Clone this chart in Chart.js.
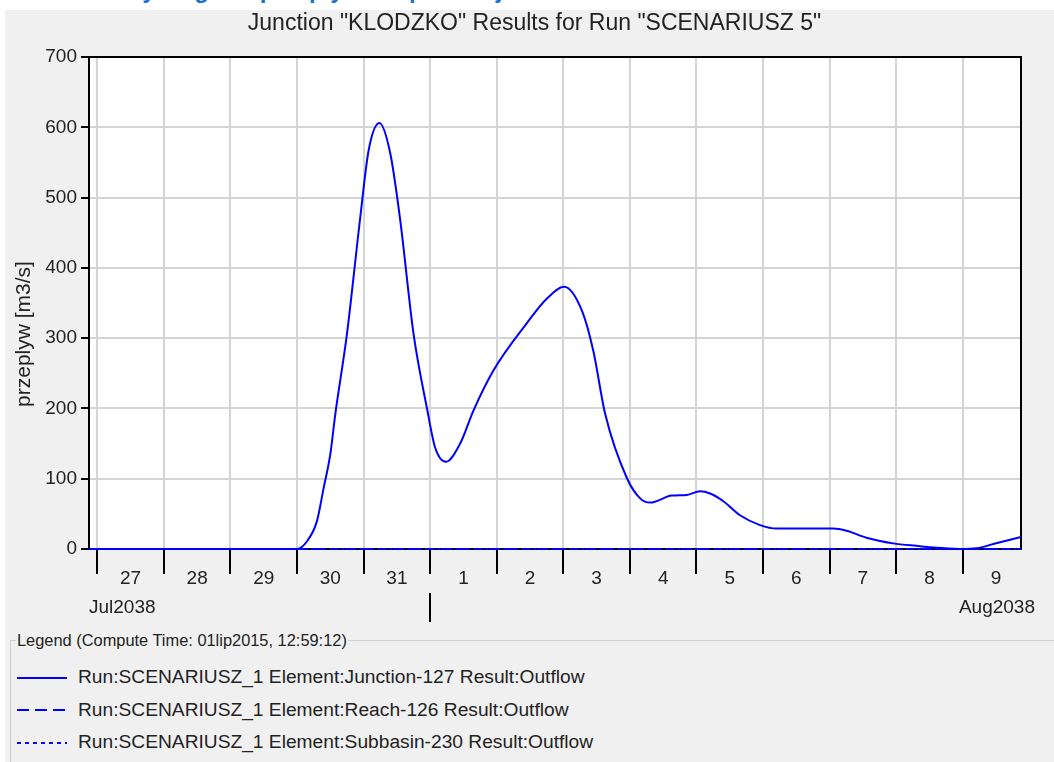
<!DOCTYPE html>
<html>
<head>
<meta charset="utf-8">
<script src="https://cdn.jsdelivr.net/npm/chart.js@4.4.0/dist/chart.umd.min.js"></script>
<style>
    body { margin: 0; background: #ffffff; width: 1054px; height: 762px; overflow: hidden; position: relative; font-family: "Liberation Sans", Arial, sans-serif; }
    #panel { position: absolute; left: 5px; top: 10px; right: 0; bottom: 0; background: #f0f0f0; }
    #heading { position: absolute; left: 125px; top: -24px; line-height: 24px; font: bold 24px "Liberation Sans", Arial, sans-serif; color: #1a73c8; white-space: nowrap; }
    #chart { position: absolute; left: 0; top: 10px; }
    #legendBox { position: absolute; left: 10px; top: 631px; width: 1060px; height: 200px; margin: 0; padding: 0 0 0 5px; border: 1px solid #c8d0d8; }
    #legendBox legend { font-size: 16.4px; color: #222; padding: 0 1px; }
    #legendRows { position: absolute; left: 17px; top: 661px; }
    .row { height: 32.5px; line-height: 32.5px; font-size: 19.2px; color: #222; white-space: nowrap; }
    .row svg { vertical-align: middle; margin-right: 11px; }
</style>
</head>
<body>
<div id="panel"></div>
<div id="heading">Hydrogram przepływu w przekroju Kłodzko dla scenariusza nr 5</div>
<canvas id="chart" width="1054" height="620"></canvas>
<fieldset id="legendBox"><legend>Legend (Compute Time: 01lip2015, 12:59:12)</legend></fieldset>
<div id="legendRows"></div>

<script>
// hours counted from 27 Jul 2038 00:00
const hours = [-3, 72, 75.6, 79.2, 81.6, 84, 85.8, 90, 94.8, 97.8, 101.7, 105.6, 109.2, 114, 118.8, 121.8, 125.7, 130.8, 135.6, 142.8, 154.8, 162, 168.3, 174.7, 178.8, 183.1, 190.9, 195.7, 199.3, 207.1, 212.5, 217.3, 220.9, 225.7, 231.7, 238.9, 244.9, 265.3, 270.1, 277.3, 286.9, 296.6, 301.4, 311, 317, 323, 333];
const junctionFlow = [0, 0, 11, 40, 87, 135, 192, 306, 472, 567, 606, 563, 468, 306, 201, 144, 124, 150, 197, 254, 321, 356, 373, 339, 282, 192, 101, 72, 66, 76, 77, 82, 79, 68, 48, 34, 29, 29, 26, 16, 8, 4, 2, 0, 1, 7, 17];

const zeroHours = [-3, 72, 168, 333];
const reachFlow = [0, 0, 0, 0];
const subbasinFlow = [0, 0, 0, 0];

const dayLabels = ['27', '28', '29', '30', '31', '1', '2', '3', '4', '5', '6', '7', '8', '9'];
const monthLabels = ['Jul2038', 'Aug2038'];
const monthStartHour = 120;   // 1 Aug 00:00
const yTicks = [0, 100, 200, 300, 400, 500, 600, 700];

const chartTitle = 'Junction "KLODZKO" Results for Run "SCENARIUSZ 5"';
const yTitle = 'przeplyw [m3/s]';
const seriesNames = [
    'Run:SCENARIUSZ_1 Element:Junction-127 Result:Outflow',
    'Run:SCENARIUSZ_1 Element:Reach-126 Result:Outflow',
    'Run:SCENARIUSZ_1 Element:Subbasin-230 Result:Outflow'
];
const seriesDash = [[], [10, 6], [3, 3]];
const legendDash = [[], [12, 6], [4, 4]];

const FONT = '"Liberation Sans", Arial, sans-serif';
const BLUE = '#0000ff';

function toPoints(xs, ys) {
    return xs.map((x, i) => ({ x: x, y: ys[i] }));
}

// white plot area, black frame, title, month row and rotated axis title
const framePlugin = {
    id: 'framePlugin',
    beforeDraw(chart) {
        const { ctx, chartArea: a } = chart;
        ctx.save();
        ctx.fillStyle = '#ffffff';
        ctx.fillRect(a.left, a.top, a.right - a.left, a.bottom - a.top);
        ctx.fillStyle = '#222';
        ctx.font = '23px ' + FONT;
        ctx.textAlign = 'center';
        ctx.textBaseline = 'middle';
        ctx.fillText(chartTitle, 534.5, 14);
        ctx.restore();
    },
    beforeDatasetsDraw(chart) {
        const { ctx, chartArea: a, scales } = chart;
        ctx.save();
        ctx.strokeStyle = '#000';
        ctx.lineWidth = 2;
        ctx.strokeRect(a.left, a.top, a.right - a.left, a.bottom - a.top);

        ctx.font = '19px ' + FONT;
        ctx.fillStyle = '#222';
        ctx.textBaseline = 'middle';
        ctx.textAlign = 'left';
        ctx.fillText(monthLabels[0], a.left, 598);
        ctx.textAlign = 'right';
        ctx.fillText(monthLabels[1], a.right + 14, 598);

        const xm = Math.round(scales.x.getPixelForValue(monthStartHour));
        ctx.beginPath();
        ctx.moveTo(xm, 583);
        ctx.lineTo(xm, 612);
        ctx.stroke();

        ctx.font = '21px ' + FONT;
        ctx.translate(24, (a.top + a.bottom) / 2 + 31);
        ctx.rotate(-Math.PI / 2);
        ctx.textAlign = 'center';
        ctx.fillText(yTitle, 0, 0);
        ctx.restore();
    }
};

const datasets = [
    { label: seriesNames[0], data: toPoints(hours, junctionFlow), borderDash: seriesDash[0] },
    { label: seriesNames[1], data: toPoints(zeroHours, reachFlow), borderDash: seriesDash[1] },
    { label: seriesNames[2], data: toPoints(zeroHours, subbasinFlow), borderDash: seriesDash[2] }
].map(d => Object.assign(d, {
    borderColor: BLUE,
    borderWidth: 2,
    pointRadius: 0,
    fill: false,
    cubicInterpolationMode: 'monotone',
    clip: false
}));

new Chart(document.getElementById('chart'), {
    type: 'line',
    data: { datasets: datasets },
    options: {
        responsive: false,
        animation: false,
        devicePixelRatio: 1,
        layout: { padding: { left: 0, right: 33, top: 47, bottom: 0 } },
        plugins: {
            legend: { display: false },
            tooltip: { enabled: false },
            title: { display: false }
        },
        scales: {
            x: {
                type: 'linear',
                min: -3,
                max: 333,
                afterFit: s => { s.height = 81; },
                afterBuildTicks: s => {
                    const t = [];
                    for (let i = 0; i < dayLabels.length; i++) {
                        t.push({ value: i * 24 });
                        t.push({ value: i * 24 + 12 });
                    }
                    s.ticks = t;
                },
                border: { display: false },
                grid: {
                    color: c => (c.tick && c.tick.value % 24 === 0) ? '#d4d4d4' : 'rgba(0,0,0,0)',
                    tickColor: c => (c.tick && c.tick.value % 24 === 0) ? '#000' : 'rgba(0,0,0,0)',
                    lineWidth: 2,
                    tickLength: 25,
                    tickWidth: 2
                },
                ticks: {
                    autoSkip: false,
                    maxRotation: 0,
                    padding: -7,
                    color: '#222',
                    font: { family: FONT, size: 19 },
                    callback: v => (v % 24 === 12) ? dayLabels[(v - 12) / 24] : ''
                }
            },
            y: {
                min: 0,
                max: 700,
                afterFit: s => { s.width = 89; },
                afterBuildTicks: s => { s.ticks = yTicks.map(v => ({ value: v })); },
                border: { display: false },
                grid: {
                    color: '#d4d4d4',
                    lineWidth: 2,
                    tickColor: '#000',
                    tickLength: 8,
                    tickWidth: 2
                },
                ticks: {
                    padding: 4,
                    color: '#222',
                    font: { family: FONT, size: 19 }
                }
            }
        }
    },
    plugins: [framePlugin]
});

// legend rows below the chart
const rows = document.getElementById('legendRows');
seriesNames.forEach((name, i) => {
    const row = document.createElement('div');
    row.className = 'row';
    const dash = legendDash[i].length ? ` stroke-dasharray="${legendDash[i].join(' ')}"` : '';
    row.innerHTML = `<svg width="50" height="6"><line x1="0" y1="3" x2="50" y2="3" stroke="${BLUE}" stroke-width="2"${dash}/></svg><span>${name}</span>`;
    rows.appendChild(row);
});
</script>
</body>
</html>
